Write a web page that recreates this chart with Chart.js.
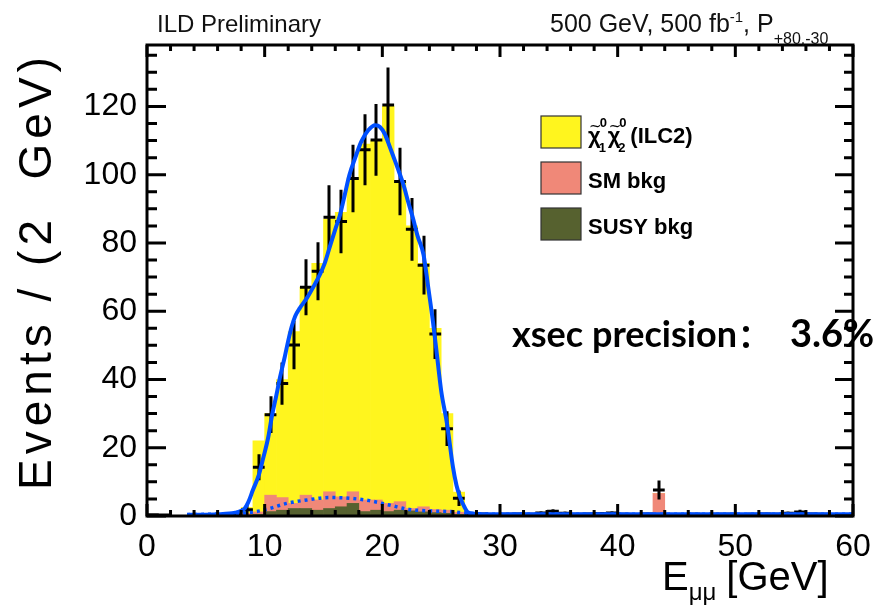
<!DOCTYPE html>
<html>
<head>
<meta charset="utf-8">
<script src="https://cdn.jsdelivr.net/npm/chart.js@4.4.1/dist/chart.umd.min.js"></script>
<style>
    html, body { margin: 0; padding: 0; background: #fff; }
    canvas { display: block; }
</style>
</head>
<body>
<canvas id="massChart" width="890" height="606"></canvas>
<script>
// ── Data (1 GeV bins) ─────────────────────────────────────────────────────────

const binCenters = [
    0.5, 1.5, 2.5, 3.5, 4.5, 5.5, 6.5, 7.5, 8.5, 9.5,
    10.5, 11.5, 12.5, 13.5, 14.5, 15.5, 16.5, 17.5, 18.5, 19.5,
    20.5, 21.5, 22.5, 23.5, 24.5, 25.5, 26.5, 27.5, 28.5, 29.5,
    30.5, 31.5, 32.5, 33.5, 34.5, 35.5, 36.5, 37.5, 38.5, 39.5,
    40.5, 41.5, 42.5, 43.5, 44.5, 45.5, 46.5, 47.5, 48.5, 49.5,
    50.5, 51.5, 52.5, 53.5, 54.5, 55.5, 56.5, 57.5, 58.5, 59.5,
];

const susyBkg = [
    0, 0, 0, 0, 0, 0, 0, 0, 0.3, 0.5,
    1.3, 1.7, 2.2, 2.2, 1.7, 2.2, 2.7, 3.7, 1.3, 1.7,
    1.3, 1.7, 1.5, 1.2, 1.0, 0.8, 0.5, 0.3, 0, 0,
    0, 0, 0, 0, 0, 0, 0, 0, 0, 0,
    0, 0, 0, 0, 0, 0, 0, 0, 0, 0,
    0, 0, 0, 0, 0, 0, 0, 0, 0, 0,
];

const smBkg = [
    0, 0, 0, 0, 0, 0, 0.1, 0.2, 0.5, 0.7,
    4.8, 3.7, 1.5, 3.9, 3.0, 4.9, 2.9, 3.4, 3.4, 3.0,
    2.4, 2.5, 0.7, 1.5, 0.9, 0.9, 0.6, 0.3, 0.2, 0.2,
    0.2, 0.2, 0.2, 0.3, 0.3, 0.2, 0.2, 0.2, 0.2, 0.2,
    0.2, 0.2, 0.2, 6.6, 0.2, 0.2, 0.2, 0.2, 0.2, 0.2,
    0.2, 0.2, 0.2, 0.2, 0.2, 0.3, 0.2, 0.2, 0.2, 0.2,
];

const signalHist = [
    0, 0, 0, 0, 0, 0, 0, 0, 1.7, 20.8,
    23.9, 34.6, 50.3, 60.9, 69.3, 79.9, 83.4, 91.9, 104.3, 105.3,
    116.3, 93.8, 82.8, 71.3, 53.1, 28.3, 5.9, 0.5, 0, 0,
    0, 0, 0, 0, 0, 0, 0, 0, 0, 0,
    0, 0, 0, 0, 0, 0, 0, 0, 0, 0,
    0, 0, 0, 0, 0, 0, 0, 0, 0, 0,
];

const dataCounts = [
    0.4, 0.3, 0, 0, 0, 0, 0.2, 0.5, 1.8, 14.3,
    29.7, 38.8, 50.1, 67.0, 71.7, 87.5, 86.3, 98.9, 107.3, 110.2,
    120.4, 98.0, 84.0, 73.5, 53.3, 25.6, 5.2, 0.5, 0.6, 0.4,
    0.5, 0.6, 0.5, 0.9, 1.4, 0.8, 0.5, 0.6, 0.7, 0.9,
    0.5, 0.4, 0.6, 7.6, 0.3, 0.4, 0.5, 0.4, 0.5, 0.5,
    0.4, 0.5, 0.6, 0.5, 0.8, 1.2, 0.6, 0.5, 0.4, 0.3,
];

const dataErrors = [
    0.3, 0.3, 0, 0, 0, 0, 0.2, 0.4, 1.5, 3.8,
    5.4, 6.2, 7.1, 8.2, 8.5, 9.4, 9.3, 9.9, 10.4, 10.5,
    11.0, 9.9, 9.2, 8.6, 7.3, 5.1, 2.3, 0.7, 0.4, 0.3,
    0.4, 0.4, 0.4, 0.5, 0.6, 0.5, 0.4, 0.4, 0.5, 0.5,
    0.4, 0.3, 0.4, 2.8, 0.3, 0.3, 0.4, 0.3, 0.4, 0.4,
    0.3, 0.4, 0.4, 0.4, 0.5, 0.6, 0.4, 0.4, 0.3, 0.3,
];

// total fit (solid blue)
const fitX = [3.4, 5, 6, 7, 7.5, 8, 8.3, 8.6, 9.0, 9.5, 9.9, 10.3, 10.6, 11.0, 11.3, 11.7, 12.0, 12.3, 12.6,
    13.0, 13.6, 14.2, 14.7, 15.1, 15.5, 16.0, 16.4, 16.8, 17.2, 17.7, 18.2, 18.8, 19.4, 19.8, 20.2, 20.6, 20.9,
    21.4, 21.8, 22.2, 22.6, 23.0, 23.5, 23.9, 24.3, 24.6, 25.0, 25.5, 26.0, 26.3, 26.6, 27.0, 27.3, 28, 30, 40, 50, 60];
const fitY = [0.4, 0.4, 0.5, 0.7, 1.0, 1.5, 2.2, 4.0, 7.6, 12.0, 17.3, 23.0, 29.0, 35.5, 40.6, 46.5, 51.3, 55.5, 58.6,
    61.0, 63.9, 67.5, 70.8, 74.0, 78.5, 84.0, 88.2, 94.0, 99.9, 105.0, 109.6, 113.0, 114.5, 114.0, 112.0, 108.5, 105.7,
    101.0, 97.0, 92.0, 87.3, 82.0, 76.6, 67.0, 57.0, 48.4, 36.7, 27.0, 14.4, 9.0, 5.6, 2.5, 1.0, 0.6, 0.5, 0.5, 0.5, 0.5];

// background-only fit (dotted blue)
const bkgFitX = [3.4, 5, 8, 9.3, 10.4, 11.9, 13.6, 15.5, 17.2, 18.9, 20.6, 22.3, 24.0, 25.7, 27.5, 30, 60];
const bkgFitY = [0.4, 0.5, 0.8, 1.3, 2.2, 3.7, 4.7, 5.4, 5.2, 4.5, 3.2, 1.9, 1.5, 1.3, 0.8, 0.5, 0.5];

const xTickValues = [0, 10, 20, 30, 40, 50, 60];
const yTickValues = [0, 20, 40, 60, 80, 100, 120];

const colSignal = '#fff51e';
const colSM = '#f08878';
const colSUSY = '#56612f';
const colFit = '#0050ff';

Chart.defaults.font.family = "'Liberation Sans', Arial, sans-serif";
Chart.defaults.color = '#000';

// ── Helpers ───────────────────────────────────────────────────────────────────

function toPoints(xs, ys) {
    return xs.map((x, i) => ({ x, y: ys[i] }));
}

// draws text pieces one after another, returns the end x
function drawRun(ctx, x, pieces) {
    for (const p of pieces) {
        ctx.font = p.font;
        ctx.fillText(p.text, x, p.y);
        x += ctx.measureText(p.text).width + (p.gap || 0);
    }
    return x;
}

// ── Plugins ───────────────────────────────────────────────────────────────────

// data points: horizontal bar over the bin, vertical bar for the error
const errorBarsPlugin = {
    id: 'errorBars',
    afterDatasetDraw(chart, args) {
        if (args.meta.label !== 'data') return;
        const { ctx, scales: { x, y } } = chart;
        ctx.save();
        ctx.strokeStyle = '#000';
        ctx.lineWidth = 3;
        ctx.beginPath();
        dataCounts.forEach((v, i) => {
            if (v <= 0) return;
            const c = binCenters[i];
            const py = y.getPixelForValue(v);
            ctx.moveTo(x.getPixelForValue(c - 0.5), py);
            ctx.lineTo(x.getPixelForValue(c + 0.5), py);
            const e = dataErrors[i];
            if (e > 0) {
                const px = Math.round(x.getPixelForValue(c));
                ctx.moveTo(px, y.getPixelForValue(Math.max(0, v - e)));
                ctx.lineTo(px, y.getPixelForValue(v + e));
            }
        });
        ctx.stroke();
        ctx.restore();
    },
};

// ROOT-style frame with inward ticks, titles, legend and labels
const framePlugin = {
    id: 'rootFrame',
    afterDraw(chart) {
        const { ctx, chartArea: a, scales: { x, y } } = chart;
        ctx.save();
        ctx.strokeStyle = '#000';
        ctx.lineWidth = 3;
        ctx.strokeRect(a.left, a.top, a.right - a.left, a.bottom - a.top);

        ctx.beginPath();
        for (let v = 0; v <= 60; v += 2) {
            const px = x.getPixelForValue(v);
            const len = v % 10 === 0 ? 12 : 6;
            ctx.moveTo(px, a.bottom); ctx.lineTo(px, a.bottom - len);
            ctx.moveTo(px, a.top); ctx.lineTo(px, a.top + len);
        }
        for (let v = 0; v <= 135; v += 5) {
            const py = y.getPixelForValue(v);
            const major = v % 20 === 0;
            ctx.moveTo(a.left, py); ctx.lineTo(a.left + (major ? 19 : 10), py);
            ctx.moveTo(a.right, py); ctx.lineTo(a.right - (major ? 18 : 9), py);
        }
        ctx.stroke();

        // axis titles
        ctx.fillStyle = '#000';
        ctx.textBaseline = 'alphabetic';
        ctx.save();
        ctx.translate(51, 271);
        ctx.rotate(-Math.PI / 2);
        ctx.textAlign = 'center';
        ctx.font = "46px 'Liberation Sans'";
        ctx.letterSpacing = '5px';
        ctx.fillText('Events / (2  GeV)', 0, 0);
        ctx.restore();

        ctx.textAlign = 'left';
        drawRun(ctx, 662, [
            { text: 'E', font: "40px 'Liberation Sans'", y: 590 },
            { text: 'μμ', font: "24px 'Liberation Sans'", y: 600, gap: 10 },
            { text: '[GeV]', font: "40px 'Liberation Sans'", y: 590 },
        ]);

        // header
        ctx.fillStyle = '#111';
        drawRun(ctx, 157, [{ text: 'ILD Preliminary', font: "24px 'Liberation Sans'", y: 32 }]);
        drawRun(ctx, 550, [
            { text: '500 GeV, 500 fb', font: "25px 'Liberation Sans'", y: 32 },
            { text: '-1', font: "15px 'Liberation Sans'", y: 22 },
            { text: ', P', font: "25px 'Liberation Sans'", y: 32 },
            { text: '+80,-30', font: "16px 'Liberation Sans'", y: 44 },
        ]);

        // legend
        const boxes = [
            { color: colSignal, top: 116 },
            { color: colSM, top: 162 },
            { color: colSUSY, top: 208 },
        ];
        ctx.lineWidth = 1.2;
        ctx.strokeStyle = '#333';
        boxes.forEach((b) => {
            ctx.fillStyle = b.color;
            ctx.fillRect(541, b.top, 40, 32);
            ctx.strokeRect(541, b.top, 40, 32);
        });
        ctx.fillStyle = '#000';
        const bold = "bold 22px 'Liberation Sans'";
        const small = "bold 13px 'Liberation Sans'";
        let cx = 588;
        for (const sub of ['1', '2']) {
            ctx.font = bold;
            ctx.fillText('χ', cx, 143);
            const w = ctx.measureText('χ').width;
            ctx.font = "15px 'DejaVu Sans'";
            ctx.fillText('~', cx + 1, 131);
            ctx.font = small;
            ctx.fillText('0', cx + w - 1, 127);
            ctx.fillText(sub, cx + w - 2, 152);
            cx += w + 7;
        }
        ctx.font = bold;
        ctx.fillText('(ILC2)', cx + 3, 143);
        ctx.fillText('SM bkg', 588, 188);
        ctx.fillText('SUSY bkg', 588, 234);

        // annotation on top of everything
        ctx.font = "bold 36px Lato";
        ctx.fillText('xsec precision', 512, 347);
        ctx.font = "bold 32px 'Noto Sans CJK SC'";
        ctx.fillText('：', 738, 347);
        ctx.font = "bold 38px Lato";
        ctx.fillText('3.6%', 790, 347);
        ctx.restore();
    },
};

// ── Chart ─────────────────────────────────────────────────────────────────────

new Chart(document.getElementById('massChart'), {
    type: 'bar',
    data: {
        datasets: [
            {
                type: 'line', label: 'fit', data: toPoints(fitX, fitY), stack: 'fit', order: 0,
                borderColor: colFit, borderWidth: 4, pointRadius: 0, cubicInterpolationMode: 'monotone',
            },
            {
                type: 'line', label: 'bkgfit', data: toPoints(bkgFitX, bkgFitY), stack: 'bkgfit', order: 1,
                borderColor: colFit, borderWidth: 3.5, borderDash: [3, 4], pointRadius: 0, cubicInterpolationMode: 'monotone',
            },
            {
                type: 'line', label: 'data', data: toPoints(binCenters, dataCounts), stack: 'data', order: 2,
                showLine: false, pointRadius: 0,
            },
            {
                label: 'susy', data: toPoints(binCenters, susyBkg), stack: 'hist', order: 3,
                backgroundColor: colSUSY, grouped: false, barPercentage: 1, categoryPercentage: 1,
            },
            {
                label: 'sm', data: toPoints(binCenters, smBkg), stack: 'hist', order: 4,
                backgroundColor: colSM, grouped: false, barPercentage: 1, categoryPercentage: 1,
            },
            {
                label: 'signal', data: toPoints(binCenters, signalHist), stack: 'hist', order: 5,
                backgroundColor: colSignal, grouped: false, barPercentage: 1, categoryPercentage: 1,
            },
        ],
    },
    options: {
        responsive: false,
        animation: false,
        devicePixelRatio: 1,
        layout: { padding: { top: 45, right: 37, left: 0, bottom: 0 } },
        plugins: { legend: { display: false }, tooltip: { enabled: false } },
        scales: {
            x: {
                type: 'linear', min: 0, max: 60, offset: false,
                grid: { display: false, drawTicks: false, offset: false },
                border: { display: false },
                ticks: { stepSize: 10, padding: 12, font: { size: 32 } },
                afterBuildTicks(scale) { scale.ticks = xTickValues.map((value) => ({ value })); },
                afterFit(scale) { scale.height = 90; },
            },
            y: {
                type: 'linear', min: 0, max: 138, stacked: true,
                grid: { display: false, drawTicks: false },
                border: { display: false },
                ticks: { padding: 10, font: { size: 32 } },
                afterBuildTicks(scale) { scale.ticks = yTickValues.map((value) => ({ value })); },
                afterFit(scale) { scale.width = 147; },
            },
        },
    },
    plugins: [errorBarsPlugin, framePlugin],
});
</script>
</body>
</html>
